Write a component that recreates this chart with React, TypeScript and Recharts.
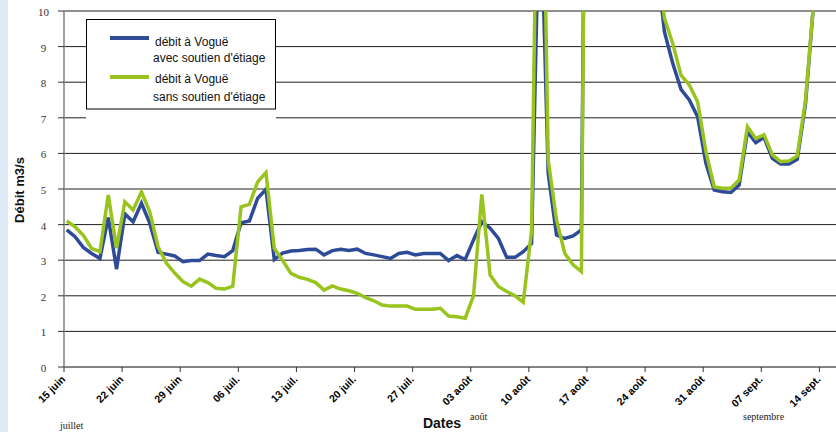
import React from "react";
import { LineChart, Line, XAxis, YAxis, CartesianGrid } from "recharts";

// day index from 15 juin (0) to 15 sept (92)
const days: number[] = Array.from({ length: 93 }, (_, i) => i);

// débit à Voguë avec soutien d'étiage (m3/s)
const avecSoutien: number[] = [
  3.85, 3.66, 3.36, 3.19, 3.05, 4.2, 2.75, 4.3, 4.08, 4.6,
  4.04, 3.22, 3.17, 3.12, 2.96, 2.99, 2.99, 3.17, 3.13, 3.1,
  3.27, 4.05, 4.1, 4.74, 4.99, 3.02, 3.2, 3.26, 3.27, 3.3,
  3.31, 3.15, 3.27, 3.31, 3.27, 3.31, 3.19, 3.15, 3.1, 3.05,
  3.19, 3.22, 3.15, 3.19, 3.19, 3.19, 2.99, 3.13, 3.02, 3.57,
  4.08, 3.9, 3.61, 3.08, 3.08, 3.24, 3.47, 14, 5.44, 3.71,
  3.61, 3.68, 3.85, 30, 28, 26, 24, 21, 18, 16,
  13.5, 11.5, 9.42, 8.53, 7.8, 7.5, 7.03, 5.72, 4.97, 4.92,
  4.9, 5.11, 6.61, 6.3, 6.45, 5.86, 5.7, 5.7, 5.83, 7.4,
  10.3, 13, 15,
];

// débit à Voguë sans soutien d'étiage (m3/s)
const sansSoutien: number[] = [
  4.1, 3.94, 3.7, 3.33, 3.24, 4.83, 3.34, 4.64, 4.41, 4.92,
  4.36, 3.38, 2.92, 2.64, 2.4, 2.27, 2.47, 2.37, 2.21, 2.19,
  2.27, 4.5, 4.57, 5.2, 5.46, 3.33, 3.0, 2.63, 2.52, 2.46,
  2.37, 2.16, 2.28, 2.19, 2.14, 2.07, 1.95, 1.86, 1.74, 1.71,
  1.71, 1.71, 1.62, 1.62, 1.62, 1.65, 1.43, 1.41, 1.37, 2.0,
  4.85, 2.58, 2.26, 2.12, 2.0, 1.82, 3.85, 20, 5.81, 4.13,
  3.19, 2.87, 2.68, 32, 30, 28, 26, 23, 20, 17,
  14, 11.8, 9.8, 9.09, 8.2, 7.92, 7.45, 6.05, 5.06, 5.02,
  5.02, 5.25, 6.75, 6.42, 6.52, 5.96, 5.77, 5.79, 5.93, 7.5,
  10.3, 13, 15,
];

const tickDays: number[] = [0, 7, 14, 21, 28, 35, 42, 49, 56, 63, 70, 77, 84, 91];
const tickLabels: string[] = [
  "15 juin", "22 juin", "29 juin", "06 juil.", "13 juil.", "20 juil.", "27 juil.",
  "03 août", "10 août", "17 août", "24 août", "31 août", "07 sept.", "14 sept.",
];
const yTicks: number[] = [0, 1, 2, 3, 4, 5, 6, 7, 8, 9, 10];

const BLUE = "#2e4b98";
const GREEN = "#99c41e";
const POINT_SHIFT = 0.33;

const data = days.map((d, i) => ({
  x: d + POINT_SHIFT,
  avec: avecSoutien[i],
  sans: sansSoutien[i],
}));

const XTick = (props: any) => {
  const { x, y, payload } = props;
  const idx = tickDays.indexOf(Math.round(payload.value));
  const label = idx >= 0 ? tickLabels[idx] : "";
  const ax = x + 2;
  const ay = y + 8;
  return (
    <text
      x={ax}
      y={ay}
      transform={`rotate(-45 ${ax} ${ay})`}
      textAnchor="end"
      fontFamily="Liberation Sans, Arial, sans-serif"
      fontWeight="bold"
      fontSize={10.5}
      fill="#000"
    >
      {label}
    </text>
  );
};

const YTick = (props: any) => {
  const { y, payload } = props;
  return (
    <text
      x={43.5}
      y={y + 1}
      textAnchor="middle"
      dominantBaseline="central"
      fontFamily="Liberation Serif, Times New Roman, serif"
      fontSize={11}
      fill="#333"
    >
      {payload.value}
    </text>
  );
};

export default function App() {
  return (
    <div
      style={{
        position: "absolute",
        left: 0,
        top: 0,
        width: 836,
        height: 432,
        overflow: "hidden",
        background: "#ffffff",
      }}
    >
      <div
        style={{
          position: "absolute",
          left: 0,
          top: 0,
          width: 8,
          height: 432,
          background: "#deeaf6",
        }}
      />
      <div style={{ position: "absolute", left: 0, top: 0 }}>
        <LineChart
          width={836}
          height={432}
          data={data}
          margin={{ top: 11, right: 0, left: 0, bottom: 10 }}
        >
          <CartesianGrid
            horizontal={true}
            vertical={false}
            stroke="#1e1e1e"
            strokeWidth={1}
          />
          <XAxis
            dataKey="x"
            type="number"
            domain={[0, 93]}
            ticks={tickDays}
            allowDataOverflow
            height={55}
            tickSize={5}
            tickMargin={0}
            interval={0}
            axisLine={{ stroke: "#808080", strokeWidth: 1.5 }}
            tickLine={{ stroke: "#333" }}
            tick={<XTick />}
          />
          <YAxis
            type="number"
            domain={[0, 10]}
            ticks={yTicks}
            allowDataOverflow
            width={64}
            tickSize={6}
            interval={0}
            axisLine={{ stroke: "#808080", strokeWidth: 1.5 }}
            tickLine={{ stroke: "#333" }}
            tick={<YTick />}
          />
          <Line
            type="linear"
            dataKey="avec"
            stroke={BLUE}
            strokeWidth={3.5}
            dot={false}
            activeDot={false}
            isAnimationActive={false}
          />
          <Line
            type="linear"
            dataKey="sans"
            stroke={GREEN}
            strokeWidth={3.5}
            dot={false}
            activeDot={false}
            isAnimationActive={false}
          />
        </LineChart>
      </div>

      {/* legend box */}
      <svg
        width={836}
        height={432}
        style={{ position: "absolute", left: 0, top: 0, pointerEvents: "none" }}
      >
        <rect x={86} y={19} width={190} height={103} fill="#fff" />
        <rect x={86.5} y={19.5} width={189} height={89.5} fill="#fff" stroke="#000" strokeWidth={1} />
        <line x1={110} x2={149} y1={38} y2={38} stroke={BLUE} strokeWidth={4} />
        <line x1={110} x2={149} y1={77} y2={77} stroke={GREEN} strokeWidth={4} />
        <g fontFamily="Liberation Sans, Arial, sans-serif" fontSize={12} fill="#111">
          <text x={155} y={42} dominantBaseline="central">débit à Voguë</text>
          <text x={153} y={58} dominantBaseline="central">avec soutien d'étiage</text>
          <text x={155} y={79} dominantBaseline="central">débit à Voguë</text>
          <text x={153} y={97} dominantBaseline="central">sans soutien d'étiage</text>
        </g>
        <text
          x={19}
          y={190}
          transform="rotate(-90 19 190)"
          textAnchor="middle"
          dominantBaseline="central"
          fontFamily="Liberation Sans, Arial, sans-serif"
          fontWeight="bold"
          fontSize={13}
          fill="#111"
        >
          Débit m3/s
        </text>
        <text
          x={442}
          y={423}
          textAnchor="middle"
          dominantBaseline="central"
          fontFamily="Liberation Sans, Arial, sans-serif"
          fontWeight="bold"
          fontSize={14}
          fill="#111"
        >
          Dates
        </text>
        <g fontFamily="Liberation Serif, Times New Roman, serif" fontSize={10} fill="#222">
          <text x={60} y={425} dominantBaseline="central">juillet</text>
          <text x={470} y={416} dominantBaseline="central">août</text>
          <text x={743} y={416} dominantBaseline="central">septembre</text>
        </g>
      </svg>
    </div>
  );
}
